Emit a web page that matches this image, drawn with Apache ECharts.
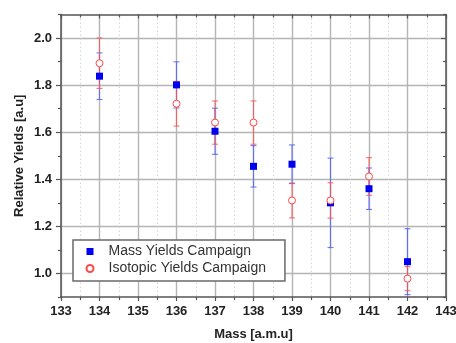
<!DOCTYPE html>
<html>
<head>
<meta charset="utf-8">
<title>Relative Yields vs Mass</title>
<script src="https://cdn.jsdelivr.net/npm/echarts@6/dist/echarts.min.js"></script>
<style>
  html, body { margin: 0; padding: 0; background: #fff; }
  #chart { width: 456px; height: 343px; }
</style>
</head>
<body>
<div id="chart"></div>
<script>
// Mass numbers measured in both campaigns
const massNumbers = [134, 136, 137, 138, 139, 140, 141, 142];

// Mass yields campaign: relative yield and its uncertainty
const massYields = [1.838, 1.801, 1.604, 1.455, 1.464, 1.300, 1.360, 1.050];
const massYieldErrors = [0.099, 0.098, 0.098, 0.088, 0.082, 0.190, 0.088, 0.140];

// Isotopic yields campaign: relative yield and its uncertainty
const isotopicYields = [1.893, 1.721, 1.641, 1.641, 1.310, 1.310, 1.412, 0.978];
const isotopicYieldErrors = [0.107, 0.095, 0.092, 0.092, 0.074, 0.075, 0.080, 0.051];

// Axis ranges and tick values
const xRange = [133, 143];
const yRange = [0.9, 2.1];
const yMajorTicks = [1.0, 1.2, 1.4, 1.6, 1.8, 2.0];
const yMinorTicks = [0.9, 1.1, 1.3, 1.5, 1.7, 1.9, 2.1];

const FONT = 'Liberation Sans, Arial, Helvetica, sans-serif';
const FRAME = '#555';
const GRID = '#b4b4b4';

function errorBars(name, values, errors, color) {
  return {
    type: 'custom',
    name: name + ' error',
    silent: true,
    legendHoverLink: false,
    data: massNumbers.map((m, i) => [m, values[i] - errors[i], values[i] + errors[i]]),
    encode: { x: 0, y: [1, 2] },
    renderItem(params, api) {
      const x = api.value(0);
      const lo = api.coord([x, api.value(1)]);
      const hi = api.coord([x, api.value(2)]);
      const hw = 3;
      const style = { stroke: color, lineWidth: 1.1 };
      return {
        type: 'group',
        children: [
          { type: 'line', shape: { x1: lo[0], y1: lo[1], x2: hi[0], y2: hi[1] }, style },
          { type: 'line', shape: { x1: lo[0] - hw, y1: lo[1], x2: lo[0] + hw, y2: lo[1] }, style },
          { type: 'line', shape: { x1: hi[0] - hw, y1: hi[1], x2: hi[0] + hw, y2: hi[1] }, style }
        ]
      };
    }
  };
}

function yAxisBase(position, ticks, inside, length) {
  return {
    type: 'value',
    position: position,
    min: yRange[0],
    max: yRange[1],
    axisLine: { show: false },
    axisTick: { show: true, inside: inside, length: length, customValues: ticks,
                lineStyle: { color: FRAME, width: 1.2 } },
    axisLabel: { show: false },
    splitLine: { show: false }
  };
}

const chart = echarts.init(document.getElementById('chart'), null, { renderer: 'canvas' });

chart.setOption({
  animation: false,
  backgroundColor: '#fff',
  grid: { left: 61, right: 10, top: 14.5, bottom: 46, outerBoundsMode: 'none', containLabel: false },
  legend: {
    left: 73,
    top: 240,
    orient: 'vertical',
    data: ['Mass Yields Campaign', 'Isotopic Yields Campaign'],
    backgroundColor: '#fff',
    borderColor: '#6a6a6a',
    borderWidth: 1.5,
    borderRadius: 0,
    padding: [3, 19, 4, 12.5],
    itemGap: 0,
    itemWidth: 7,
    itemHeight: 7,
    selectedMode: false,
    textStyle: { fontFamily: FONT, fontSize: 14, color: '#333', lineHeight: 17, padding: [0, 0, 0, 10] }
  },
  xAxis: [
    {
      type: 'value',
      position: 'bottom',
      min: xRange[0],
      max: xRange[1],
      interval: 1,
      name: 'Mass [a.m.u]',
      nameLocation: 'middle',
      nameGap: 31,
      nameMoveOverlap: false,
      nameTextStyle: { fontFamily: FONT, fontSize: 13, fontWeight: 'bold', color: '#222' },
      axisLine: { show: true, onZero: false, lineStyle: { color: FRAME, width: 1.5 } },
      axisTick: { show: true, inside: false, length: 4, lineStyle: { color: FRAME, width: 1.2 } },
      minorTick: { show: true, splitNumber: 2, length: 3, lineStyle: { color: FRAME, width: 1.2 } },
      axisLabel: { show: true, margin: 8, fontFamily: FONT, fontSize: 13, fontWeight: 'bold', color: '#222',
                   showMinLabel: true, showMaxLabel: true },
      splitLine: { show: true, lineStyle: { color: GRID, width: 1.4 } },
      minorSplitLine: { show: true, lineStyle: { color: '#d4d4d4', width: 1, type: [1.5, 2.5] } }
    },
    {
      type: 'value',
      position: 'top',
      min: xRange[0],
      max: xRange[1],
      interval: 1,
      axisLine: { show: true, onZero: false, lineStyle: { color: FRAME, width: 1.5 } },
      axisTick: { show: true, inside: true, length: 4, lineStyle: { color: FRAME, width: 1.2 } },
      minorTick: { show: true, splitNumber: 2, length: 3, lineStyle: { color: FRAME, width: 1.2 } },
      axisLabel: { show: false },
      splitLine: { show: false }
    }
  ],
  yAxis: [
    {
      type: 'value',
      position: 'left',
      min: yRange[0],
      max: yRange[1],
      name: 'Relative Yields [a.u]',
      nameLocation: 'middle',
      nameGap: 35,
      nameMoveOverlap: false,
      nameTextStyle: { fontFamily: FONT, fontSize: 13, fontWeight: 'bold', color: '#222' },
      axisLine: { show: true, onZero: false, lineStyle: { color: FRAME, width: 1.5 } },
      axisTick: { show: true, inside: false, length: 5, customValues: yMajorTicks,
                  lineStyle: { color: FRAME, width: 1.2 } },
      axisLabel: { show: true, margin: 9, customValues: yMajorTicks,
                   formatter: v => Number(v).toFixed(1),
                   fontFamily: FONT, fontSize: 13, fontWeight: 'bold', color: '#222' },
      splitLine: { show: true, lineStyle: { color: GRID, width: 1.4 } }
    },
    yAxisBase('left', yMinorTicks, false, 3),
    Object.assign(yAxisBase('right', yMajorTicks, true, 5),
      { axisLine: { show: true, onZero: false, lineStyle: { color: FRAME, width: 1.5 } } }),
    yAxisBase('right', yMinorTicks, true, 3)
  ],
  series: [
    errorBars('Mass Yields Campaign', massYields, massYieldErrors, 'rgba(80,100,255,0.85)'),
    errorBars('Isotopic Yields Campaign', isotopicYields, isotopicYieldErrors, 'rgba(255,80,80,0.8)'),
    {
      type: 'scatter',
      name: 'Mass Yields Campaign',
      symbol: 'rect',
      symbolSize: 7,
      itemStyle: { color: '#0000f0', opacity: 1 },
      data: massNumbers.map((m, i) => [m, massYields[i]]),
      z: 5
    },
    {
      type: 'scatter',
      name: 'Isotopic Yields Campaign',
      symbol: 'circle',
      symbolSize: 7,
      itemStyle: { color: '#ffffff', borderColor: '#ff4848', borderWidth: 1, opacity: 1 },
      data: massNumbers.map((m, i) => [m, isotopicYields[i]]),
      z: 6
    }
  ]
});
</script>
</body>
</html>
